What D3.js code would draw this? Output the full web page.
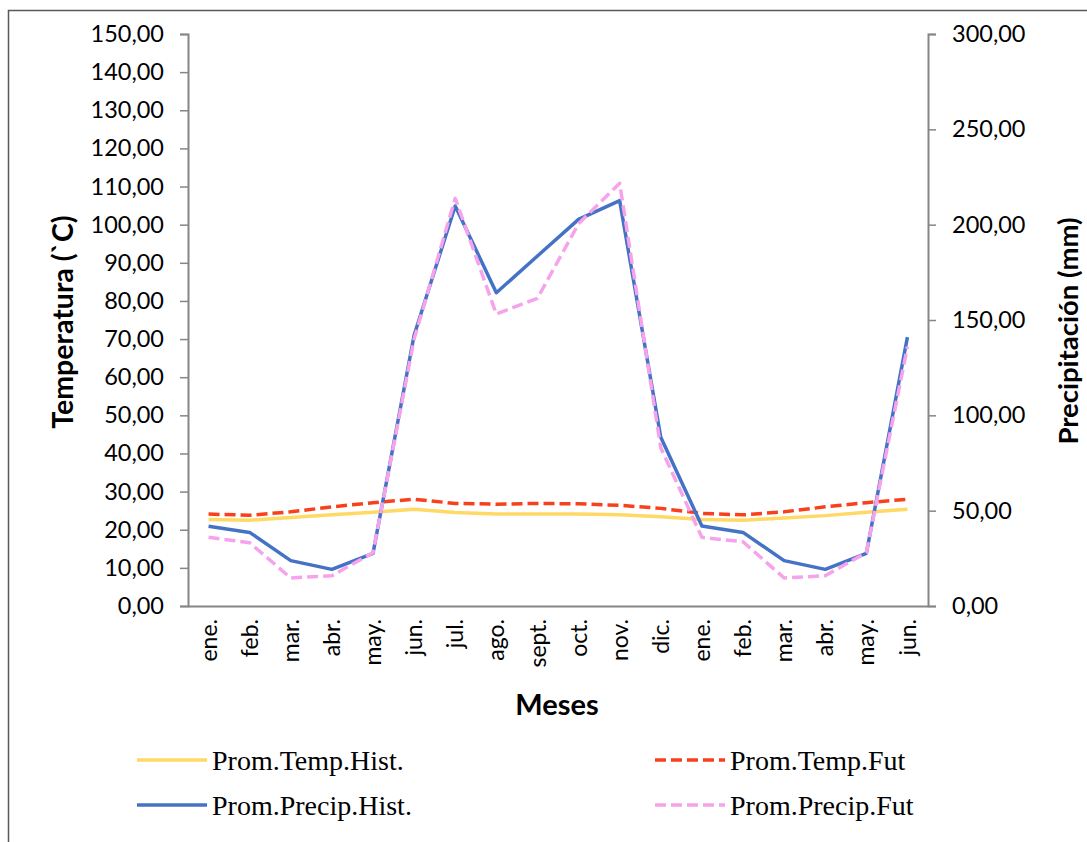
<!DOCTYPE html>
<html><head><meta charset="utf-8">
<script src="https://cdn.jsdelivr.net/npm/d3@7"></script>
<style>body{margin:0;background:#fff}svg{display:block}</style>
</head><body>
<svg id="c" width="1087" height="842"></svg>
<script>
const months = ["ene.","feb.","mar.","abr.","may.","jun.","jul.","ago.","sept.","oct.","nov.","dic.","ene.","feb.","mar.","abr.","may.","jun."];
const tempHist = [22.7,22.5,23.2,23.9,24.6,25.4,24.5,24.1,24.1,24.1,23.9,23.4,22.7,22.5,23.1,23.7,24.6,25.4];
const tempFut  = [24.1,23.8,24.7,26.0,27.1,28.0,26.9,26.7,26.9,26.8,26.4,25.6,24.3,23.9,24.7,26.0,27.1,28.0];
const precHist = [41.8,38.6,23.8,19.2,27.6,142.0,209.8,164.3,183.6,202.8,212.6,88.5,42.0,38.6,23.8,19.2,27.6,141.0];
const precFut  = [36.0,33.2,14.7,15.9,28.0,140.0,213.8,153.1,161.4,200.5,221.7,83.0,36.0,33.7,14.7,15.9,28.0,136.0];
const leftTicks = [0,10,20,30,40,50,60,70,80,90,100,110,120,130,140,150];
const rightTicks = [0,50,100,150,200,250,300];
const seriesNames = ["Prom.Temp.Hist.","Prom.Temp.Fut","Prom.Precip.Hist.","Prom.Precip.Fut"];

const svg = d3.select("#c");
const L = 188, R = 928, T = 34, B = 606;
const fmt = d => d.toFixed(2).replace(".", ",");
const axisCol = "#868686";

svg.append("rect").attr("x",8.5).attr("y",10.5).attr("width",1200).attr("height",1000)
  .attr("fill","none").attr("stroke","#595959").attr("stroke-width",1.5);

const x = d3.scaleBand().domain(d3.range(months.length)).range([L,R]).paddingInner(0).paddingOuter(0);
const cx = i => x(i) + x.bandwidth()/2;
const yL = d3.scaleLinear().domain([0,150]).range([B,T]);
const yR = d3.scaleLinear().domain([0,300]).range([B,T]);

const gL = svg.append("g").attr("transform",`translate(${L},0)`)
  .call(d3.axisLeft(yL).tickValues(leftTicks).tickFormat(fmt).tickSize(8).tickPadding(16));
const gR = svg.append("g").attr("transform",`translate(${R},0)`)
  .call(d3.axisRight(yR).tickValues(rightTicks).tickFormat(fmt).tickSize(8).tickPadding(16));
[gL,gR].forEach(g=>{
  g.select(".domain").attr("stroke",axisCol).attr("stroke-width",2);
  g.selectAll(".tick line").attr("stroke",axisCol).attr("stroke-width",1.5);
  g.selectAll(".tick text").attr("font-family","Lato, sans-serif").attr("font-size",23.5).attr("fill","#000");
});
const gB = svg.append("g").attr("transform",`translate(0,${B})`)
  .call(d3.axisBottom(x).tickSize(0).tickFormat(i=>months[i]));
gB.select(".domain").attr("stroke",axisCol).attr("stroke-width",2);
gB.selectAll(".tick text").attr("font-family","Lato, sans-serif").attr("font-size",23).attr("fill","#000")
  .attr("text-anchor","end").attr("transform","rotate(-90)").attr("x",-13).attr("y",0).attr("dy","0.35em");

svg.append("text").attr("transform","translate(73,322) rotate(-90)").attr("text-anchor","middle")
  .attr("font-family","Lato, sans-serif").attr("font-weight","bold").attr("font-size",28.5).text("Temperatura (`C)");
svg.append("text").attr("transform","translate(1078,331) rotate(-90)").attr("text-anchor","middle")
  .attr("font-family","Lato, sans-serif").attr("font-weight","bold").attr("font-size",27.5).text("Precipitación (mm)");
svg.append("text").attr("x",557).attr("y",715).attr("text-anchor","middle")
  .attr("font-family","Lato, sans-serif").attr("font-weight","bold").attr("font-size",29).text("Meses");

const styles = [
  {data:tempHist, y:yL, color:"#FFD966", dash:null},
  {data:tempFut,  y:yL, color:"#F8411C", dash:"11,5"},
  {data:precHist, y:yR, color:"#4472C4", dash:null},
  {data:precFut,  y:yR, color:"#F7A3EB", dash:"11,5"}
];
styles.forEach(s=>{
  const line = d3.line().x((d,i)=>cx(i)).y(d=>s.y(d));
  svg.append("path").datum(s.data).attr("d",line).attr("fill","none")
    .attr("stroke",s.color).attr("stroke-width",3.5).attr("stroke-linejoin","round")
    .attr("stroke-dasharray",s.dash);
});

const legPos = [[137,760],[655,760],[137,805],[655,805]];
styles.forEach((s,k)=>{
  const [lx,ly] = legPos[k];
  svg.append("line").attr("x1",lx).attr("x2",lx+70).attr("y1",ly).attr("y2",ly)
    .attr("stroke",s.color).attr("stroke-width",3.5).attr("stroke-dasharray",s.dash);
  svg.append("text").attr("x",lx+75).attr("y",ly+10)
    .attr("font-family","'Liberation Serif', 'Times New Roman', serif").attr("font-size",28).attr("fill","#000")
    .text(seriesNames[k]);
});
</script>
</body></html>
